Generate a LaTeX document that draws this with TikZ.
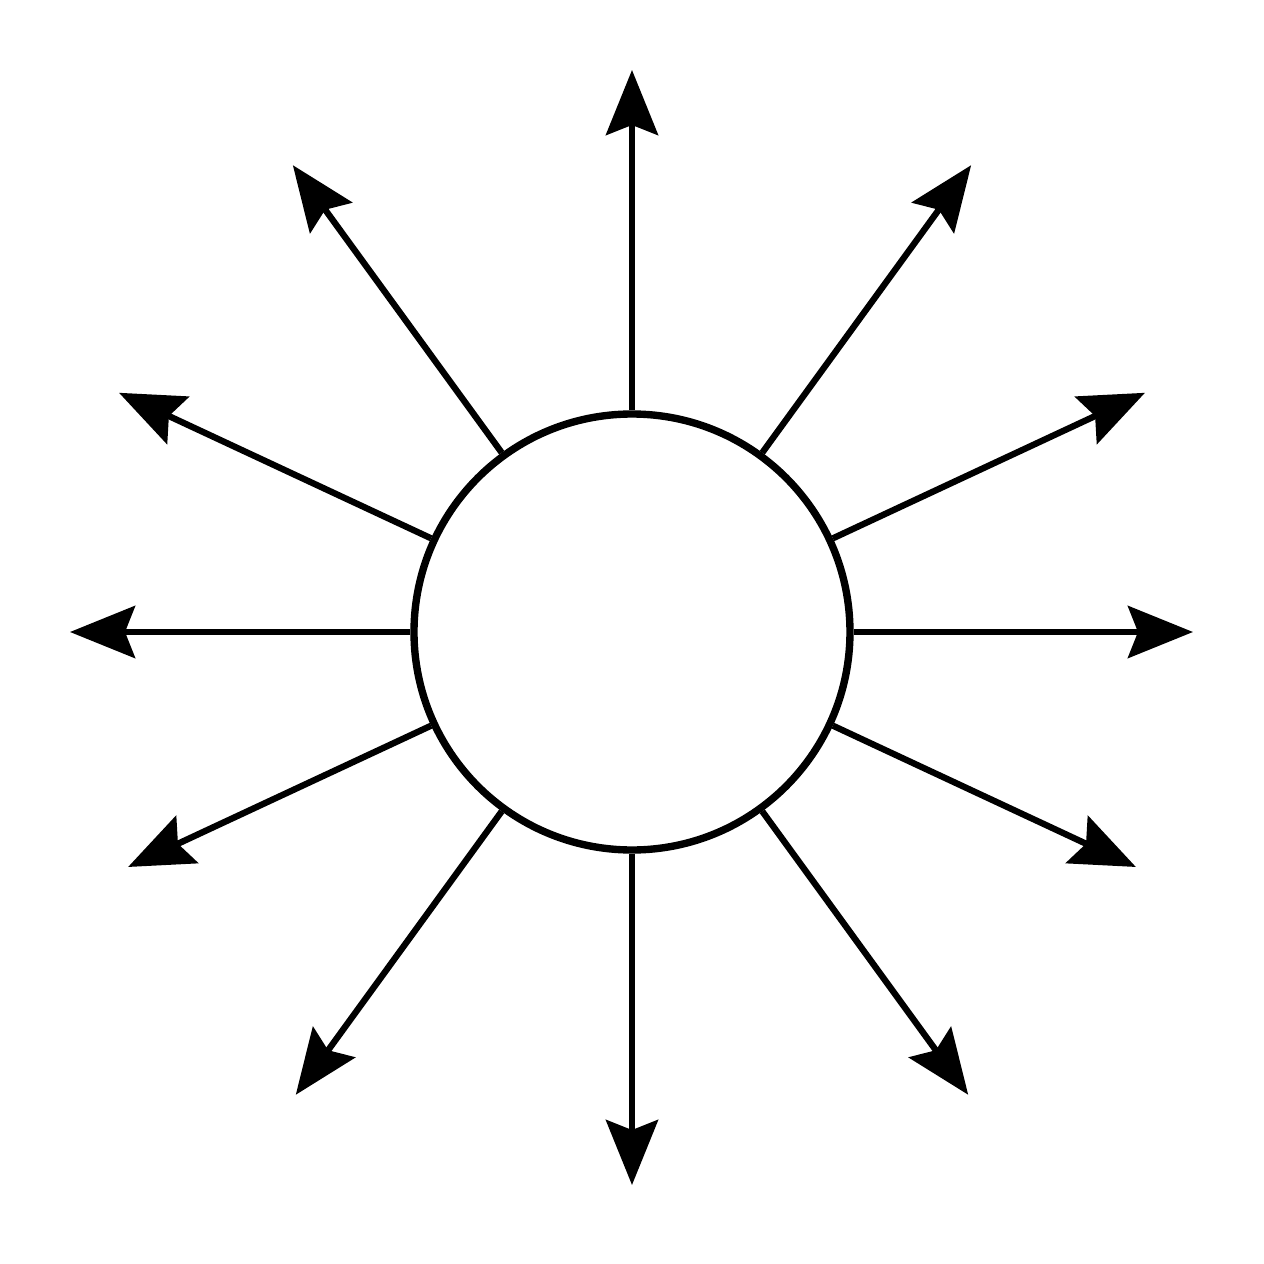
\documentclass[tikz,border=0pt]{standalone}
\usetikzlibrary{arrows.meta}

\begin{document}
\begin{tikzpicture}[ray/.style={line width=1.8pt, -{Stealth[length=0.65cm, width=0.52cm, inset=0.1cm]}}]
    \useasboundingbox (-6.32,-6.32) rectangle (6.32,6.32);
    \node[draw, circle, line width=2.1pt, inner sep=0pt, minimum size=4.36cm] (sun) at (0,0) {};
    \foreach \a/\r in {0/5.61, 25/5.66, 54/5.77, 90/5.62, 126/5.77, 155/5.66,
                       180/5.62, 205/5.56, 234/5.72, 270/5.53, 306/5.72, 335/5.56} {
        \coordinate (tip\a) at (\a:\r);
        \draw[ray] (sun.\a) -- (tip\a);
    }
  \end{tikzpicture}
\end{document}
